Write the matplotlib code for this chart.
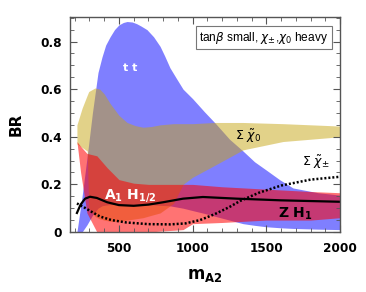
import matplotlib
matplotlib.use("Agg")
import matplotlib.pyplot as plt
from matplotlib.ticker import MultipleLocator, FixedLocator

# ---- data ----
tt_m     = [215, 250, 283, 320, 358, 385, 410, 440, 470, 500, 530, 555, 590, 620, 650, 690, 735, 779, 810, 846, 890, 935, 1000, 1080, 1158, 1250, 1342, 1420, 1500, 1590, 1681, 1850, 2000]
tt_up    = [0.0, 0.15, 0.31, 0.50, 0.67, 0.735, 0.785, 0.82, 0.85, 0.87, 0.88, 0.884, 0.882, 0.875, 0.865, 0.85, 0.82, 0.78, 0.74, 0.69, 0.645, 0.60, 0.56, 0.505, 0.454, 0.39, 0.34, 0.295, 0.26, 0.22, 0.185, 0.165, 0.155]
tt_lo    = [0.0, 0.0, 0.03, 0.07, 0.10, 0.11, 0.113, 0.115, 0.115, 0.115, 0.115, 0.115, 0.115, 0.115, 0.115, 0.115, 0.114, 0.112, 0.111, 0.11, 0.105, 0.10, 0.09, 0.078, 0.065, 0.05, 0.035, 0.028, 0.022, 0.018, 0.015, 0.012, 0.01]

chi0_m   = [215, 250, 285, 295, 338, 370, 400, 440, 500, 555, 610, 663, 720, 779, 870, 935, 1000, 1150, 1342, 1613, 2000]
chi0_up  = [0.45, 0.52, 0.575, 0.59, 0.605, 0.60, 0.58, 0.54, 0.49, 0.46, 0.447, 0.44, 0.443, 0.45, 0.455, 0.455, 0.455, 0.46, 0.46, 0.455, 0.445]
chi0_lo  = [0.37, 0.355, 0.34, 0.10, 0.065, 0.055, 0.05, 0.045, 0.045, 0.05, 0.055, 0.06, 0.07, 0.08, 0.12, 0.20, 0.23, 0.28, 0.345, 0.38, 0.40]

ah_m     = [215, 240, 283, 350, 420, 500, 600, 700, 935, 1000, 1200, 1500, 1800, 2000]
ah_up    = [0.38, 0.36, 0.33, 0.32, 0.27, 0.22, 0.205, 0.20, 0.20, 0.20, 0.19, 0.18, 0.17, 0.165]
ah_lo    = [0.38, 0.25, 0.08, 0.0, 0.0, 0.0, 0.0, 0.0, 0.01, 0.035, 0.04, 0.05, 0.05, 0.06]

zh_m     = [215, 240, 270, 304, 350, 420, 500, 600, 700, 800, 935, 1070, 1300, 1600, 2000]
zh_br    = [0.08, 0.115, 0.14, 0.148, 0.143, 0.125, 0.113, 0.11, 0.115, 0.125, 0.14, 0.147, 0.14, 0.133, 0.127]

chpm_m   = [215, 260, 300, 372, 450, 550, 700, 850, 950, 1050, 1150, 1250, 1321, 1450, 1600, 1800, 2000]
chpm_br  = [0.12, 0.105, 0.09, 0.065, 0.05, 0.04, 0.033, 0.032, 0.036, 0.05, 0.075, 0.105, 0.13, 0.165, 0.195, 0.22, 0.232]

xticks = [500, 1000, 1500, 2000]
yticks = [0, 0.2, 0.4, 0.6, 0.8]
ytick_labels = ["0", "0.2", "0.4", "0.6", "0.8"]

# ---- figure ----
fig = plt.figure(figsize=(3.66, 2.92), dpi=100)
ax = fig.add_axes([70/366, 60/292, 270/366, 215/292])

ax.fill_between(tt_m, tt_lo, tt_up, color=(0, 0, 1), alpha=0.5, lw=0)
ax.fill_between(chi0_m, chi0_lo, chi0_up, color=(0.78, 0.65, 0.08), alpha=0.5, lw=0)
ax.fill_between(ah_m, ah_lo, ah_up, color=(1, 0, 0), alpha=0.55, lw=0)

ax.plot(zh_m, zh_br, color="black", lw=1.6)
ax.plot(chpm_m, chpm_br, color="black", lw=1.8, linestyle=(0, (0.8, 0.8)))

ax.set_xlim(168, 2000)
ax.set_ylim(0, 0.903)

ax.xaxis.set_major_locator(FixedLocator(xticks))
ax.xaxis.set_minor_locator(MultipleLocator(100))
ax.yaxis.set_major_locator(FixedLocator(yticks))
ax.yaxis.set_minor_locator(MultipleLocator(0.05))
ax.set_yticklabels(ytick_labels)
ax.tick_params(which="both", direction="in", top=True, right=True, color="#555555")
ax.tick_params(which="major", length=5, width=0.8, labelsize=8.7)
ax.tick_params(axis="y", which="major", pad=5.5)
ax.tick_params(axis="x", which="major", pad=7)
ax.tick_params(which="minor", length=3, width=0.6)
for lab in ax.get_xticklabels() + ax.get_yticklabels():
    lab.set_fontweight("bold")
for s in ax.spines.values():
    s.set_color("#555555")
    s.set_linewidth(1.0)

ax.set_ylabel("BR", fontsize=11, fontweight="bold", labelpad=12)
ax.set_xlabel(r"$\mathbf{m_{A2}}$", fontsize=12, labelpad=8)

ax.text(575, 0.69, "t t", color="white", fontsize=8, fontweight="bold", ha="center", va="center")
ax.text(1376, 0.403, r"$\Sigma\ \tilde{\chi}_0$", fontsize=9, ha="center", va="center")
ax.text(1837, 0.294, r"$\Sigma\ \tilde{\chi}_{\pm}$", fontsize=9, ha="center", va="center")
ax.text(575, 0.155, r"$\mathbf{A_1\ H_{1/2}}$", color="white", fontsize=10, ha="center", va="center")
ax.text(1695, 0.076, r"$\mathbf{Z\ H_1}$", color="black", fontsize=10, ha="center", va="center")

ax.text(0.718, 0.903, r"tan$\beta$ small, $\chi_{\pm}$,$\chi_0$ heavy", transform=ax.transAxes,
        fontsize=8.6, family="Liberation Sans", ha="center", va="center",
        bbox=dict(boxstyle="square,pad=0.3", fc="white", ec="#777777", lw=0.8))

fig.savefig("out.png", dpi=100)
